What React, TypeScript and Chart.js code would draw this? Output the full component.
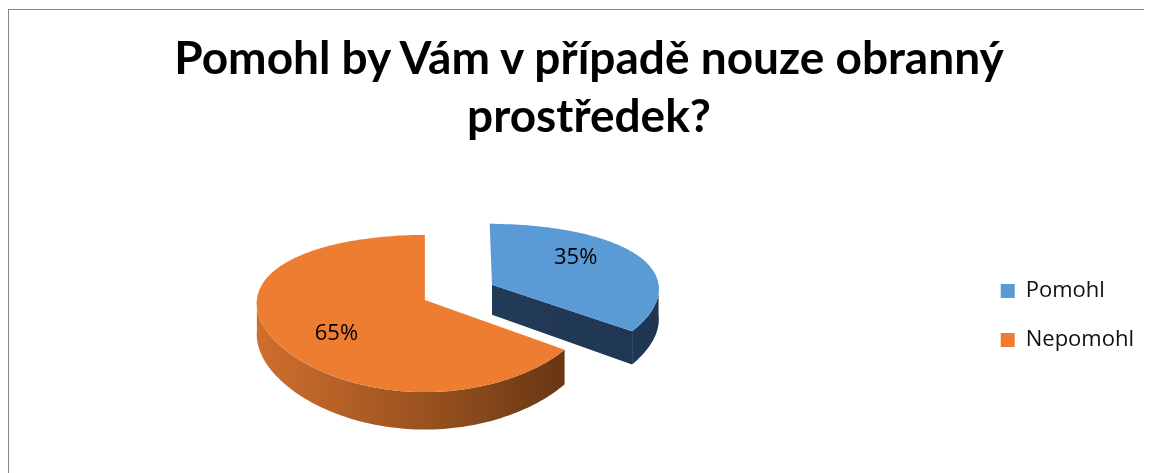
import React, { useEffect, useRef } from 'react';
import { Chart, registerables } from 'chart.js';

Chart.register(...registerables);

// ---- data ----
const TITLE_LINES = ['Pomohl by Vám v případě nouze obranný', 'prostředek?'];
const CATEGORIES = ['Pomohl', 'Nepomohl'];
const VALUES = [35, 65];
const TOP_COLORS = ['#5B9BD5', '#ED7D31'];
const SIDE_COLORS = [
  ['#27415F', '#223B57', '#1F3652'],
  ['#D06F2F', '#9A521F', '#5C3011'],
];
const EXPLODE = [76, 0];

// ---- 3D look (tilt, perspective, thickness) ----
const TILT = 0.454;
const PERSP = 0.172;
const PERSP_X = 0.25;
const DEPTH = 31;
const LABEL_POS = 0.66;
const LABEL_TURN = -0.2;

const FONT = '"Open Sans", sans-serif';

const pie3d = {
  id: 'pie3d',
  beforeDatasetsDraw(chart: any) {
    const ctx: CanvasRenderingContext2D = chart.ctx;
    const meta = chart.getDatasetMeta(0);
    const data = chart.data.datasets[0].data as number[];
    const total = data.reduce((a, b) => a + b, 0);
    const slices = meta.data.map((el: any, i: number) => {
      const p = el.getProps(['x', 'y', 'startAngle', 'endAngle', 'outerRadius'], true);
      const mid = (p.startAngle + p.endAngle) / 2;
      const off = el.options.offset || 0;
      return {
        i,
        bx: p.x,
        by: p.y,
        ou: Math.cos(mid) * off,
        ov: Math.sin(mid) * off,
        r: p.outerRadius,
        s: p.startAngle,
        e: p.endAngle,
        mid,
        color: el.options.backgroundColor,
      };
    });

    // project a point of the pie plane (u right, v towards viewer) at depth h
    const proj = (sl: any, u: number, v: number, h: number): [number, number] => {
      const k = 1 / (1 - (v * PERSP) / sl.r);
      const kx = 1 + (k - 1) * PERSP_X;
      return [sl.bx + u * kx, sl.by + (v * TILT + h) * k];
    };
    const rim = (sl: any, t: number, h: number) =>
      proj(sl, sl.ou + sl.r * Math.cos(t), sl.ov + sl.r * Math.sin(t), h);
    const arcPath = (sl: any, a0: number, a1: number, h: number, first: boolean) => {
      const n = Math.max(2, Math.ceil((Math.abs(a1 - a0) / (Math.PI * 2)) * 240));
      for (let j = 0; j <= n; j++) {
        const [x, y] = rim(sl, a0 + ((a1 - a0) * j) / n, h);
        if (j === 0 && first) ctx.moveTo(x, y);
        else ctx.lineTo(x, y);
      }
    };

    ctx.save();
    // sides
    slices.forEach((sl: any) => {
      const { s, e, r } = sl;
      const stops = SIDE_COLORS[sl.i];
      const [lx] = proj(sl, sl.ou - r * 1.03, 0, 0);
      const [rx] = proj(sl, sl.ou + r * 1.03, 0, 0);
      const grad = ctx.createLinearGradient(lx, 0, rx, 0);
      stops.forEach((c, j) => grad.addColorStop(j / (stops.length - 1), c));
      ctx.fillStyle = grad;
      const face = (t: number) => {
        const c0 = proj(sl, sl.ou, sl.ov, 0);
        const c1 = proj(sl, sl.ou, sl.ov, DEPTH);
        const p0 = rim(sl, t, 0);
        const p1 = rim(sl, t, DEPTH);
        ctx.beginPath();
        ctx.moveTo(c0[0], c0[1]);
        ctx.lineTo(p0[0], p0[1]);
        ctx.lineTo(p1[0], p1[1]);
        ctx.lineTo(c1[0], c1[1]);
        ctx.closePath();
        ctx.fill();
      };
      if (Math.cos(e) > 1e-6) face(e);
      if (Math.cos(s) < -1e-6) face(s);
      const a0 = Math.max(s, 0);
      const a1 = Math.min(e, Math.PI);
      if (a1 > a0) {
        ctx.beginPath();
        arcPath(sl, a0, a1, 0, true);
        arcPath(sl, a1, a0, DEPTH, false);
        ctx.closePath();
        ctx.fill();
      }
    });
    // tops
    slices.forEach((sl: any) => {
      const c = proj(sl, sl.ou, sl.ov, 0);
      ctx.beginPath();
      ctx.moveTo(c[0], c[1]);
      arcPath(sl, sl.s, sl.e, 0, false);
      ctx.closePath();
      ctx.fillStyle = sl.color;
      ctx.fill();
    });
    // labels
    ctx.fillStyle = '#000';
    ctx.font = `22px ${FONT}`;
    ctx.textAlign = 'center';
    ctx.textBaseline = 'middle';
    slices.forEach((sl: any) => {
      const { r } = sl;
      const a = sl.mid + LABEL_TURN;
      const pct = Math.round((data[sl.i] / total) * 100) + '%';
      const [x, y] = proj(sl, sl.ou + Math.cos(a) * r * LABEL_POS, sl.ov + Math.sin(a) * r * LABEL_POS, 0);
      ctx.fillText(pct, x, y);
    });
    ctx.restore();
    return false;
  },
};

export default function App() {
  const ref = useRef<HTMLCanvasElement>(null);

  useEffect(() => {
    document.body.style.overflow = 'hidden';
    document.documentElement.style.overflow = 'hidden';
    const chart = new Chart(ref.current as HTMLCanvasElement, {
      type: 'pie',
      data: {
        labels: CATEGORIES,
        datasets: [
          {
            data: VALUES,
            backgroundColor: TOP_COLORS,
            borderWidth: 0,
            offset: EXPLODE,
            radius: 168,
          } as any,
        ],
      },
      options: {
        responsive: false,
        animation: false,
        events: [],
        layout: { padding: { left: 0, right: 16, top: 212, bottom: 95 } },
        plugins: {
          title: { display: false },
          tooltip: { enabled: false },
          legend: {
            position: 'right',
            align: 'end',
            labels: {
              boxWidth: 14,
              boxHeight: 14,
              padding: 27,
              color: '#111',
              font: { family: FONT, size: 22 },
            },
          },
        },
      } as any,
      plugins: [pie3d as any],
    });
    return () => chart.destroy();
  }, []);

  return (
    <div
      style={{
        marginTop: 1,
        position: 'relative',
        width: 1200,
        height: 520,
        borderTop: '1px solid #888',
        borderLeft: '1px solid #888',
        overflow: 'hidden',
        background: '#fff',
      }}
    >
      <canvas ref={ref} width={1284} height={463} style={{ position: 'absolute', left: -133, top: 0 }} />
      <div
        style={{
          position: 'absolute',
          left: 0,
          top: 18,
          width: 1160,
          textAlign: 'center',
          font: 'bold 46px Lato, sans-serif',
          lineHeight: '58px',
          color: '#000',
        }}
      >
        {TITLE_LINES.map((l, i) => (
          <div key={i}>{l}</div>
        ))}
      </div>
    </div>
  );
}
